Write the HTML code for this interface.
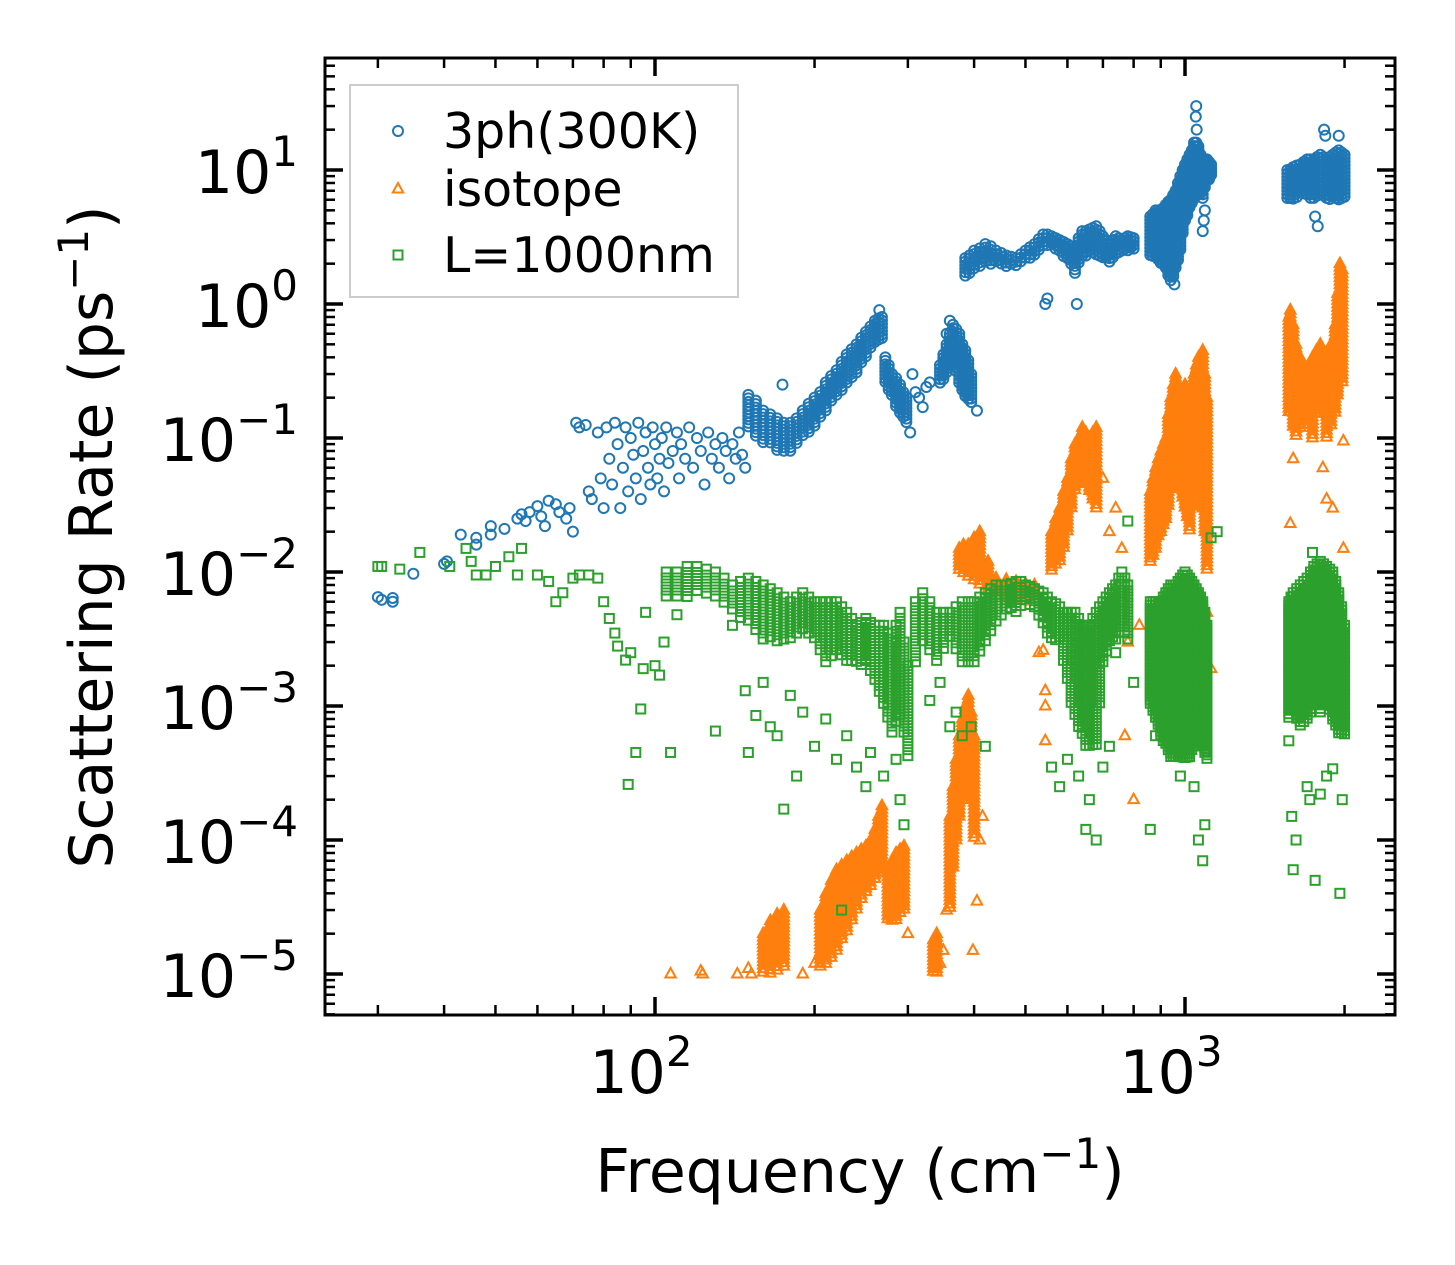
<!DOCTYPE html>
<html><head><meta charset="utf-8"><style>
html,body{margin:0;padding:0;background:#fff;}
svg{display:block;font-family:"DejaVu Sans","Liberation Sans",sans-serif;}
</style></head><body>
<svg id="chart" width="1455" height="1265" viewBox="0 0 1455 1265" xmlns="http://www.w3.org/2000/svg">
<rect width="1455" height="1265" fill="#fff"/>
<g id="marks"></g>
<g id="axes"></g>
<text x="860" y="1192" font-size="60" text-anchor="middle">Frequency (cm<tspan font-size="42" dy="-24">−1</tspan><tspan dy="24">)</tspan></text>
<text transform="translate(112,537) rotate(-90)" font-size="60" text-anchor="middle">Scattering Rate (ps<tspan font-size="42" dy="-24">−1</tspan><tspan dy="24">)</tspan></text>
<g>
<rect x="350" y="85" width="388" height="212" fill="#fff" stroke="#ccc" stroke-width="2"/>
<g id="legend-marks"></g>
<text x="443" y="148" font-size="49">3ph(300K)</text>
<text x="443" y="206" font-size="49">isotope</text>
<text x="443" y="272" font-size="49">L=1000nm</text>
</g>
</svg>
<script>
// ---- data (frequency cm^-1, rate ps^-1) ----
const ph3Points = [[30,.0065],[30.5,.0062],[32,.006],[32,.0064],[35,.0097],[40,.0115],[40.5,.012],[43,.019],[46,.018],[46,.016],[49,.022],[49,.019],[52,.021],[55,.025],[56,.027],[57,.024],[58,.028],[60,.031],[61,.026],[62,.022],[63,.034],[65,.032],[66,.028],[68,.025],[69,.03],[70,.02],[71,.13],[72,.12],[74,.125],[75,.04],[76,.035],[78,.11],[79,.05],[80,.03],[81,.12],[82,.07],[83,.045],[84,.13],[85,.09],[86,.03],[87,.06],[88,.12],[89,.04],[90,.1],[91,.075],[92,.05],[93,.13],[94,.035],[95,.08],[96,.11],[97,.06],[98,.045],[99,.12],[100,.09],[101,.05],[102,.07],[103,.1],[104,.04],[105,.12],[106,.065],[108,.08],[110,.11],[111,.05],[112,.09],[114,.07],[116,.12],[118,.06],[120,.1],[122,.08],[124,.045],[126,.11],[128,.07],[130,.09],[132,.06],[134,.1],[136,.08],[138,.05],[140,.09],[142,.07],[144,.11],[146,.075],[148,.06],[174,.25],[265,.9],[303,.11],[306,.3],[310,.22],[315,.2],[320,.17],[325,.24],[330,.26],[355,.6],[360,.75],[405,.16],[545,1.0],[550,1.1],[625,1.0],[1050,30],[1048,25],[1052,20],[1080,3.5],[1085,4.2],[1090,5],[955,1.4],[950,1.6],[1760,4.5],[1780,3.8],[1830,20],[1840,18],[1950,18]];
const ph3Ranges = [[150,.12,.21],[155,.1,.19],[160,.09,.16],[165,.09,.15],[170,.08,.14],[175,.08,.13],[180,.08,.13],[185,.09,.14],[190,.1,.16],[195,.11,.18],[200,.12,.2],[205,.14,.22],[210,.16,.26],[215,.18,.29],[220,.2,.32],[225,.22,.37],[230,.25,.42],[235,.28,.46],[240,.3,.5],[245,.35,.56],[250,.4,.62],[255,.45,.68],[260,.5,.75],[264,.52,.78],[268,.55,.8],[272,.25,.4],[276,.22,.35],[280,.2,.3],[285,.17,.28],[290,.15,.25],[294,.14,.22],[298,.13,.2],[345,.25,.35],[350,.27,.42],[355,.3,.5],[360,.33,.6],[365,.35,.7],[370,.3,.65],[375,.25,.6],[380,.22,.5],[385,.2,.45],[390,.19,.38],[395,.18,.3],[385,1.6,2.2],[392,1.7,2.3],[400,1.8,2.5],[410,1.9,2.6],[420,2,2.8],[430,2,2.7],[440,2,2.5],[450,1.95,2.4],[460,1.9,2.3],[470,1.9,2.25],[480,1.9,2.2],[490,2,2.35],[500,2.1,2.5],[510,2.2,2.65],[520,2.3,2.8],[530,2.45,3.05],[540,2.6,3.3],[550,2.7,3.3],[560,2.7,3.2],[570,2.55,3.1],[580,2.4,3],[590,2.25,2.9],[600,2.1,2.8],[610,1.9,2.7],[620,1.7,2.6],[630,2,3.1],[640,2.2,3.5],[650,2.3,3.5],[660,2.4,3.6],[670,2.35,3.7],[680,2.3,3.8],[690,2.25,3.5],[700,2.2,3.2],[710,2.1,3],[720,2,2.8],[730,2.15,3],[740,2.3,3.2],[750,2.35,3.1],[760,2.4,3],[770,2.45,3.1],[780,2.5,3.2],[790,2.5,3.15],[800,2.5,3.1],[860,2.2,4.5],[870,2.2,4.7],[880,2.2,5],[890,2.1,5],[900,2,5],[910,1.9,5.2],[920,1.8,5.5],[930,1.6,5.8],[940,1.5,6],[950,1.6,6.5],[960,1.8,7],[970,2.1,8],[980,2.5,9],[990,3.2,10],[1000,4,11],[1010,4.5,12],[1020,5,13],[1030,5.5,14],[1040,6,16],[1050,6.5,16],[1060,7,15],[1070,6.5,13],[1080,6,12],[1090,7,12],[1100,8,12],[1110,8.5,11.5],[1120,9,11],[1560,6,10],[1580,6,10],[1600,6,10.5],[1625,6.2,10.8],[1650,6.5,11],[1675,6.5,11.5],[1700,6.5,12],[1725,6.2,12],[1750,6,12],[1775,6.2,12.5],[1800,6.5,13],[1825,6.2,12.5],[1850,6,12],[1875,6,12.5],[1900,6,13],[1925,6,13.5],[1950,6,14],[1975,6,13.5],[2000,6,13]];

const isoPoints = [[107,1e-5],[122,1.05e-5],[123,1e-5],[143,1e-5],[150,1.1e-5],[152,1e-5],[190,1e-5],[200,1.2e-5],[345,1.2e-5],[350,1.5e-5],[355,3e-5],[398,1.5e-5],[405,3.5e-5],[410,1e-4],[415,1.5e-4],[300,2e-5],[540,.0026],[545,.0013],[545,.00055],[545,.001],[530,.0025],[700,.05],[720,.02],[740,.03],[760,.015],[780,.003],[770,.0006],[800,.0002],[820,.004],[1120,.0019],[1100,.005],[1580,.023],[1990,.015],[1990,.095],[1600,.07],[1850,.035],[1900,.03],[1820,.06]];
const isoRanges = [[160,1e-5,2e-5],[165,1e-5,2.5e-5],[170,1.05e-5,2.8e-5],[175,1.1e-5,3e-5],[205,1.1e-5,3e-5],[210,1.2e-5,4e-5],[215,1.3e-5,5e-5],[220,1.5e-5,6e-5],[225,1.8e-5,6.5e-5],[230,2e-5,7e-5],[235,2.5e-5,7.5e-5],[240,3e-5,8e-5],[245,3.5e-5,8.5e-5],[250,4e-5,9e-5],[255,4.5e-5,1e-4],[260,5e-5,1.2e-4],[264,5.5e-5,1.5e-4],[268,6e-5,1.8e-4],[275,2.5e-5,6e-5],[280,2.5e-5,7e-5],[285,2.5e-5,8e-5],[290,2.8e-5,8.5e-5],[295,3e-5,9e-5],[335,1e-5,1.8e-5],[340,1e-5,2e-5],[360,3e-5,1.5e-4],[365,6e-5,2.5e-4],[370,1e-4,4e-4],[375,1.5e-4,6e-4],[380,2e-4,8e-4],[385,2.5e-4,1e-3],[390,3e-4,1.2e-3],[395,2e-4,9e-4],[400,1e-4,6e-4],[375,.01,.015],[382,.0095,.016],[390,.009,.016],[400,.0085,.018],[410,.008,.02],[425,.007,.012],[440,.0065,.009],[460,.006,.0088],[480,.006,.0085],[500,.006,.0082],[520,.006,.008],[560,.01,.02],[570,.011,.025],[580,.012,.03],[590,.015,.04],[600,.02,.05],[610,.03,.07],[620,.04,.09],[630,.045,.1],[640,.05,.12],[650,.045,.11],[660,.04,.1],[670,.035,.11],[680,.03,.12],[860,.012,.04],[870,.013,.05],[880,.015,.06],[890,.018,.07],[900,.02,.08],[910,.022,.09],[920,.025,.1],[930,.03,.15],[940,.04,.2],[950,.045,.25],[960,.05,.3],[970,.045,.25],[980,.04,.2],[990,.035,.22],[1000,.03,.25],[1010,.025,.2],[1020,.02,.15],[1030,.03,.2],[1040,.05,.3],[1050,.05,.35],[1060,.05,.4],[1070,.04,.42],[1080,.03,.45],[1090,.02,.3],[1100,.01,.2],[1570,.15,.8],[1580,.15,.9],[1600,.12,.7],[1620,.1,.5],[1650,.12,.4],[1680,.15,.3],[1710,.12,.35],[1740,.1,.4],[1770,.15,.45],[1800,.2,.5],[1825,.15,.4],[1850,.1,.25],[1885,.12,.5],[1920,.15,.7],[1940,.2,1.2],[1960,.3,2.0],[1980,.25,1.8]];

const bndPoints = [[30,.011],[30.5,.011],[33,.0105],[36,.014],[41,.011],[44,.015],[45,.012],[46,.0095],[48,.0095],[50,.011],[53,.013],[55,.0095],[56,.015],[60,.0095],[63,.0085],[65,.006],[67,.007],[70,.009],[72,.0095],[75,.0095],[78,.009],[80,.006],[82,.0045],[84,.0035],[85,.0028],[88,.0022],[89,.00026],[90,.0025],[92,.00045],[94,.00095],[95,.0019],[96,.005],[100,.002],[102,.0017],[104,.003],[107,.00045],[110,.0048],[130,.00065],[140,.004],[148,.0013],[150,.00045],[155,.00085],[160,.0015],[165,.0007],[170,.0006],[175,.00017],[180,.0012],[185,.0003],[190,.0009],[200,.0005],[210,.0008],[220,.0004],[225,.00003],[230,.0006],[240,.00035],[250,.00025],[255,.00045],[270,.0003],[285,.0004],[295,.00013],[290,.0002],[330,.0011],[345,.0015],[360,.0007],[370,.0009],[380,.0006],[395,.0007],[420,.0005],[560,.00035],[580,.00025],[600,.0004],[630,.0003],[650,.00012],[660,.0002],[680,.0001],[700,.00035],[720,.0005],[740,.0025],[760,.006],[780,.024],[800,.0015],[860,.00012],[880,.0006],[980,.0003],[1040,.00025],[1060,.0001],[1080,.00007],[1090,.00013],[1120,.018],[1150,.02],[1100,.0018],[1570,.00055],[1590,.00015],[1600,.00006],[1620,.0001],[1700,.00025],[1720,.0002],[1760,.00005],[1800,.00022],[1850,.0003],[1900,.00034],[1960,.00004],[1980,.0002],[1740,.014]];
const bndRanges = [[105,.006,.01],[110,.006,.01],[115,.0065,.011],[120,.007,.011],[125,.0065,.0105],[130,.006,.01],[135,.0055,.009],[140,.005,.008],[145,.0045,.0085],[150,.004,.009],[155,.0035,.0085],[160,.003,.008],[165,.003,.0075],[170,.003,.007],[175,.003,.0065],[180,.003,.006],[185,.0032,.0065],[190,.0035,.007],[195,.0032,.0065],[200,.003,.006],[205,.0025,.006],[210,.002,.006],[215,.0022,.006],[220,.0025,.006],[225,.0022,.0055],[230,.002,.005],[235,.002,.0045],[240,.002,.004],[245,.002,.0042],[250,.002,.0045],[255,.0018,.0042],[260,.0015,.004],[265,.0012,.004],[270,.001,.004],[275,.0008,.0035],[280,.0006,.003],[285,.0007,.004],[290,.0008,.005],[295,.0006,.003],[300,.0004,.002],[310,.002,.006],[320,.003,.007],[330,.0025,.006],[340,.002,.005],[350,.0025,.005],[360,.003,.005],[370,.0025,.0055],[380,.002,.006],[390,.002,.006],[400,.002,.006],[410,.0025,.0065],[420,.003,.007],[430,.0035,.0075],[440,.004,.008],[450,.0045,.008],[460,.005,.008],[470,.005,.0082],[480,.005,.0085],[490,.0055,.0085],[500,.006,.008],[510,.0055,.0078],[520,.005,.0075],[530,.0045,.0072],[540,.004,.007],[550,.0035,.0065],[560,.003,.006],[570,.003,.0058],[580,.003,.0055],[590,.002,.005],[600,.0015,.005],[610,.001,.005],[620,.0008,.005],[630,.0007,.0045],[640,.0006,.004],[650,.0005,.004],[660,.0005,.004],[670,.0005,.0045],[680,.0005,.005],[690,.001,.0055],[700,.002,.006],[710,.0025,.0065],[720,.003,.007],[730,.003,.0075],[740,.003,.008],[750,.0035,.009],[760,.004,.01],[770,.0035,.009],[780,.003,.008],[860,.001,.006],[870,.0009,.006],[880,.0008,.006],[890,.0007,.006],[900,.0006,.006],[910,.00055,.0065],[920,.0005,.007],[930,.00045,.0075],[940,.0004,.008],[950,.0004,.008],[960,.0004,.008],[970,.0004,.0085],[980,.0004,.009],[990,.0004,.0095],[1000,.0004,.01],[1010,.0004,.0095],[1020,.0004,.009],[1030,.00045,.0085],[1040,.0005,.008],[1050,.00055,.0075],[1060,.0006,.007],[1070,.00055,.0065],[1080,.0005,.006],[1090,.00045,.005],[1100,.0004,.004],[1570,.0008,.006],[1585,.0009,.0065],[1600,.001,.007],[1625,.0008,.0075],[1650,.0007,.008],[1675,.00075,.0085],[1700,.0008,.009],[1725,.0009,.01],[1750,.001,.011],[1775,.001,.0115],[1800,.0009,.012],[1825,.001,.0115],[1850,.001,.011],[1875,.0009,.0105],[1900,.0008,.01],[1925,.0007,.0085],[1950,.0006,.007],[1975,.0006,.0055],[2000,.0006,.004]];

const xTickValues = [100, 1000];
const xTickExps = ["2", "3"];
const yTickValues = [10, 1, 0.1, 0.01, 0.001, 0.0001, 0.00001];
const yTickExps = ["1", "0", "−1", "−2", "−3", "−4", "−5"];

// ---- axes mapping ----
const L = 325, R = 1395, T = 58, B = 1015;
function xs(f){ return 655 + (Math.log10(f) - 2) * 530; }
function ys(r){ return 170 - (Math.log10(r) - 1) * 134; }
const NS = "http://www.w3.org/2000/svg";
const colors = {ph3:"#1f77b4", iso:"#ff7f0e", bnd:"#2ca02c"};

function marker(kind, x, y){
  let el;
  if(kind === "ph3"){
    el = document.createElementNS(NS, "circle");
    el.setAttribute("cx", x); el.setAttribute("cy", y); el.setAttribute("r", 5);
  } else if(kind === "iso"){
    el = document.createElementNS(NS, "polygon");
    el.setAttribute("points", `${x},${y-6} ${x-5.2},${y+3.5} ${x+5.2},${y+3.5}`);
  } else {
    el = document.createElementNS(NS, "rect");
    el.setAttribute("x", x-4.5); el.setAttribute("y", y-4.5);
    el.setAttribute("width", 9); el.setAttribute("height", 9);
  }
  el.setAttribute("fill", "none");
  el.setAttribute("stroke", colors[kind]);
  el.setAttribute("stroke-width", 2);
  return el;
}

const marks = document.getElementById("marks");
function drawSeries(kind, pts, ranges){
  const g = document.createElementNS(NS, "g");
  
  
  ranges.forEach(rg => {
    const x = xs(rg[0]), y1 = ys(rg[2]), y2 = ys(rg[1]);
    const step = (kind === "bnd" && rg[0] < 850) ? 6 : 3.5;
    for(let y = y1; y <= y2 + 0.1; y += step){
      const m = marker(kind, x, y);
      
      
      g.appendChild(m);
    }
  });
  pts.forEach(p => {
    const m = marker(kind, xs(p[0]), ys(p[1]));
    
    
    g.appendChild(m);
  });
  marks.appendChild(g);
}
drawSeries("ph3", ph3Points, ph3Ranges);
drawSeries("iso", isoPoints, isoRanges);
drawSeries("bnd", bndPoints, bndRanges);

// legend markers
const lm = document.getElementById("legend-marks");
[["ph3",131],["iso",189],["bnd",255]].forEach(e => {
  const m = marker(e[0], 398, e[1]);
  
  
  lm.appendChild(m);
});

// ---- axes ----
const axes = document.getElementById("axes");
function line(x1,y1,x2,y2,w,name){
  const l = document.createElementNS(NS, "line");
  l.setAttribute("x1",x1); l.setAttribute("y1",y1); l.setAttribute("x2",x2); l.setAttribute("y2",y2);
  l.setAttribute("stroke","#000"); l.setAttribute("stroke-width",w);
  
  
  axes.appendChild(l);
}
const frame = document.createElementNS(NS, "rect");
frame.setAttribute("x", L); frame.setAttribute("y", T);
frame.setAttribute("width", R-L); frame.setAttribute("height", B-T);
frame.setAttribute("fill","none"); frame.setAttribute("stroke","#000"); frame.setAttribute("stroke-width",3);


axes.appendChild(frame);

// x ticks
for(let d = 1; d <= 3; d++){
  for(let k = 1; k <= 9; k++){
    const v = k * Math.pow(10, d);
    const x = xs(v);
    if(x < L || x > R) continue;
    const len = (k === 1) ? 18 : 10, w = (k === 1) ? 3.5 : 2.5;
    line(x, B, x, B-len, w, 'x-tick');
    line(x, T, x, T+len, w, 'x-tick-top');
  }
}
xTickValues.forEach((v,i) => {
  const t = document.createElementNS(NS, "text");
  t.setAttribute("x", xs(v) - 14); t.setAttribute("y", 1093);
  t.setAttribute("font-size", 60); t.setAttribute("text-anchor", "middle");
  
  
  t.innerHTML = `10<tspan font-size="42" dy="-27">${xTickExps[i]}</tspan>`;
  axes.appendChild(t);
});
// y ticks
for(let d = -6; d <= 1; d++){
  for(let k = 1; k <= 9; k++){
    const v = k * Math.pow(10, d);
    const y = ys(v);
    if(y < T || y > B) continue;
    const len = (k === 1) ? 18 : 10, w = (k === 1) ? 3.5 : 2.5;
    line(L, y, L+len, y, w, 'y-tick');
    line(R, y, R-len, y, w, 'y-tick-right');
  }
}
yTickValues.forEach((v,i) => {
  const t = document.createElementNS(NS, "text");
  t.setAttribute("x", 298); t.setAttribute("y", ys(v) + 23);
  t.setAttribute("font-size", 60); t.setAttribute("text-anchor", "end");
  
  
  t.innerHTML = `10<tspan font-size="42" dy="-27">${yTickExps[i]}</tspan>`;
  axes.appendChild(t);
});
</script>
</body></html>
